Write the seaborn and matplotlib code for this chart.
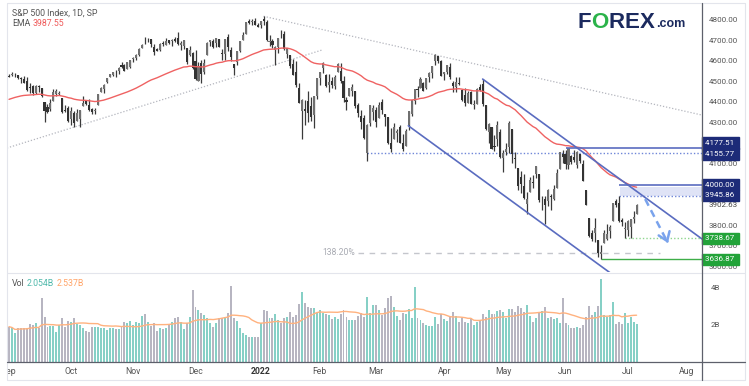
import matplotlib
matplotlib.use("Agg")
import matplotlib.pyplot as plt
import matplotlib.transforms as mtransforms
from matplotlib.lines import Line2D
import numpy as np
import pandas as pd
import seaborn as sns

# ---- daily OHLC, S&P 500, 1 Sep 2021 .. 7 Jul 2022 (one entry per trading day)
opens = [
    # Sep
    4528, 4534, 4532, 4535, 4518, 4513, 4506, 4474, 4479, 4447, 4477, 4469, 4402, 4375, 4368, 4406, 4438, 4442, 4419, 4362, 4371,
    # Oct
    4317, 4348, 4310, 4320, 4384, 4406, 4385, 4368, 4358, 4386, 4448, 4463, 4497, 4524, 4533, 4547, 4553, 4579, 4580, 4562, 4572,
    # Nov
    4610, 4613, 4630, 4662, 4699, 4701, 4707, 4670, 4659, 4655, 4689, 4680, 4701, 4700, 4708, 4712, 4679, 4675, 4664, 4628, 4640,
    # Dec
    4602, 4505, 4589, 4549, 4631, 4691, 4697, 4687, 4710, 4642, 4637, 4719, 4653, 4587, 4595, 4650, 4703, 4733, 4795, 4788, 4794, 4776,
    # Jan
    4778, 4804, 4788, 4693, 4698, 4655, 4669, 4729, 4733, 4637, 4632, 4588, 4548, 4471, 4357, 4367, 4408, 4380, 4337, 4431,
    # Feb
    4519, 4566, 4535, 4482, 4505, 4480, 4548, 4553, 4506, 4412, 4429, 4455, 4456, 4385, 4332, 4325, 4155.77, 4298, 4354,
    # Mar
    4364, 4322, 4401, 4342, 4327, 4202, 4224, 4253, 4280, 4203, 4188, 4289, 4345, 4407, 4462, 4469, 4494, 4470, 4522, 4542, 4603, 4624, 4599,
    # Apr
    4540, 4547, 4573, 4495, 4475, 4494, 4462, 4437, 4398, 4449, 4385, 4390, 4473, 4489, 4385, 4255, 4278, 4187, 4223, 4254,
    # May
    4131, 4159, 4182, 4271, 4128, 4081, 4035, 3991, 3904, 3964, 4013, 4052, 4052, 3900, 3928, 3920, 3942, 3930, 3985, 4077, 4151,
    # Jun
    4150, 4096, 4137, 4134, 4097, 4148, 4102, 3975, 3838, 3763, 3765, 3729, 3665, 3715, 3734, 3774, 3821, 3920, 3913, 3826, 3785,
    # Jul
    3781, 3792, 3831, 3859,
]
highs = [
    4537, 4545, 4541, 4535, 4521, 4529, 4521, 4492, 4485, 4486, 4486, 4471, 4402, 4394, 4417, 4465, 4463, 4457, 4419, 4385, 4382,
    4375, 4356, 4369, 4365, 4429, 4412, 4415, 4374, 4372, 4439, 4475, 4488, 4520, 4540, 4549, 4559, 4572, 4598, 4585, 4597, 4608,
    4620, 4635, 4664, 4683, 4718, 4714, 4708, 4684, 4664, 4688, 4698, 4714, 4701, 4708, 4717, 4744, 4699, 4702, 4664, 4672, 4646,
    4652, 4595, 4608, 4612, 4694, 4705, 4707, 4713, 4710, 4660, 4710, 4732, 4667, 4588, 4651, 4697, 4740, 4792, 4807, 4804, 4808, 4787,
    4797, 4819, 4798, 4726, 4708, 4674, 4714, 4749, 4745, 4666, 4632, 4612, 4602, 4494, 4417, 4411, 4453, 4428, 4432, 4516,
    4546, 4595, 4540, 4540, 4521, 4531, 4590, 4589, 4527, 4426, 4472, 4490, 4456, 4395, 4363, 4340, 4294, 4385, 4388,
    4375, 4401, 4416, 4342, 4327, 4276, 4299, 4268, 4291, 4247, 4272, 4358, 4412, 4465, 4481, 4522, 4501, 4520, 4546, 4575, 4637, 4627, 4604,
    4548, 4583, 4593, 4504, 4522, 4521, 4464, 4471, 4454, 4453, 4411, 4471, 4489, 4513, 4386, 4299, 4278, 4240, 4308, 4270,
    4169, 4201, 4308, 4271, 4158, 4082, 4068, 4050, 3965, 4038, 4047, 4089, 4052, 3946, 3944, 3981, 3956, 3999, 4075, 4158, 4168,
    4167, 4177.51, 4142, 4169, 4164, 4149, 4119, 3975, 3838, 3778, 3838, 3729, 3708, 3779, 3810, 3802, 3913, 3928, 3945.86, 3837, 3818,
    3829, 3832, 3870, 3906,
]
lows = [
    4522, 4529, 4521, 4513, 4493, 4493, 4456, 4446, 4435, 4438, 4448, 4427, 4305, 4348, 4359, 4406, 4430, 4436, 4346, 4355, 4306,
    4289, 4279, 4310, 4278, 4384, 4386, 4360, 4342, 4342, 4386, 4448, 4447, 4496, 4524, 4527, 4524, 4537, 4569, 4551, 4562, 4568,
    4595, 4604, 4624, 4662, 4681, 4694, 4670, 4630, 4648, 4651, 4672, 4679, 4684, 4672, 4692, 4680, 4652, 4659, 4585, 4625, 4560,
    4510, 4504, 4495, 4540, 4631, 4675, 4666, 4671, 4667, 4606, 4606, 4651, 4600, 4531, 4583, 4645, 4703, 4733, 4780, 4778, 4775, 4766,
    4759, 4775, 4699, 4672, 4663, 4582, 4638, 4712, 4654, 4614, 4568, 4531, 4474, 4395, 4222, 4288, 4305, 4309, 4273, 4415,
    4484, 4544, 4474, 4451, 4471, 4466, 4548, 4492, 4402, 4364, 4429, 4429, 4373, 4328, 4268, 4222, 4114, 4287, 4316,
    4279, 4322, 4345, 4284, 4199, 4157, 4224, 4209, 4200, 4162, 4187, 4265, 4335, 4390, 4424, 4469, 4455, 4465, 4501, 4517, 4581, 4589, 4530,
    4507, 4539, 4514, 4450, 4450, 4485, 4408, 4382, 4395, 4392, 4368, 4390, 4455, 4384, 4267, 4200, 4175, 4162, 4188, 4131,
    4062, 4145, 4156, 4107, 4082, 3975, 3958, 3928, 3859, 3964, 3984, 4034, 3914, 3877, 3811, 3895, 3875, 3925, 3985, 4077, 4104,
    4074, 4074, 4098, 4109, 4081, 4107, 4017, 3901, 3744, 3725, 3722, 3648, 3636.87, 3715, 3729, 3743, 3821, 3889, 3820, 3800, 3738.67,
    3752, 3742, 3813, 3859,
]
closes = [
    4524, 4537, 4535, 4520, 4514, 4493, 4459, 4469, 4443, 4480, 4474, 4433, 4358, 4354, 4396, 4449, 4455, 4443, 4353, 4360, 4308,
    4357, 4300, 4346, 4364, 4399, 4391, 4361, 4351, 4364, 4438, 4471, 4486, 4519, 4537, 4549, 4545, 4567, 4574, 4551, 4596, 4605,
    4614, 4631, 4660, 4680, 4697, 4701, 4685, 4646, 4649, 4683, 4682, 4700, 4688, 4704, 4698, 4682, 4690, 4701, 4595, 4655, 4567,
    4513, 4577, 4538, 4592, 4687, 4701, 4667, 4712, 4669, 4635, 4709, 4668, 4621, 4568, 4649, 4697, 4726, 4791, 4786, 4793, 4778, 4766,
    4797, 4794, 4701, 4696, 4677, 4670, 4713, 4726, 4659, 4663, 4577, 4533, 4483, 4398, 4410, 4357, 4350, 4327, 4432, 4516,
    4546, 4589, 4477, 4501, 4484, 4521, 4587, 4504, 4419, 4401, 4472, 4475, 4380, 4349, 4305, 4226, 4288, 4385, 4374,
    4306, 4387, 4364, 4329, 4201, 4171, 4278, 4260, 4204, 4173, 4262, 4358, 4412, 4463, 4461, 4512, 4457, 4520, 4543, 4575, 4632, 4602, 4530,
    4546, 4583, 4525, 4481, 4500, 4488, 4413, 4397, 4447, 4392, 4391, 4463, 4459, 4394, 4272, 4297, 4175, 4184, 4288, 4132,
    4155, 4175, 4301, 4147, 4123, 3991, 4001, 3935, 3930, 4024, 4008, 4089, 3924, 3901, 3901, 3974, 3941, 3979, 4058, 4158, 4132,
    4101, 4176, 4109, 4121, 4161, 4116, 4018, 3901, 3750, 3735, 3790, 3667, 3675, 3765, 3760, 3796, 3912, 3900, 3821, 3819, 3785,
    3825, 3831, 3845, 3902.63,
]
# volume, billions
volume = [
    1.91, 1.82, 1.55, 1.82, 1.82, 1.82, 1.82, 2.04, 2.00, 2.09, 1.82, 3.48, 2.45, 1.91, 1.96, 1.96, 1.64, 2.00, 2.36, 1.91, 2.24,
    2.18, 2.40, 2.04, 2.00, 1.86, 1.68, 1.64, 1.91, 1.91, 1.91, 1.86, 1.82, 1.73, 1.82, 1.86, 1.78, 1.78, 1.96, 2.18, 2.09, 2.24,
    2.00, 2.18, 2.09, 2.49, 2.58, 2.18, 1.96, 2.09, 1.68, 1.86, 1.78, 1.85, 2.00, 2.18, 2.36, 2.41, 2.18, 1.78, 2.09, 2.45, 3.89,
    2.99, 2.79, 2.63, 2.54, 2.36, 2.13, 1.91, 2.09, 2.36, 2.36, 2.45, 2.67, 4.12, 2.40, 2.23, 1.82, 1.55, 1.46, 1.37, 1.33, 1.33, 1.33,
    2.13, 2.81, 2.76, 2.36, 2.40, 2.58, 2.27, 2.09, 2.36, 2.45, 2.68, 2.45, 2.54, 3.14, 3.80, 3.17, 2.95, 2.90, 2.90, 2.67,
    2.81, 2.63, 2.58, 2.54, 2.32, 2.41, 2.32, 2.59, 2.81, 2.41, 2.27, 2.27, 2.27, 2.50, 2.67, 2.45, 3.49, 2.67, 3.08,
    3.08, 2.81, 2.54, 2.94, 3.44, 3.57, 2.95, 2.49, 2.27, 2.67, 2.58, 2.86, 2.36, 4.07, 2.40, 2.27, 2.09, 2.00, 1.97, 1.97, 2.41, 2.05, 2.58,
    2.32, 2.22, 2.45, 2.68, 2.50, 2.18, 2.40, 2.18, 2.09, 2.40, 2.00, 2.18, 2.27, 2.59, 2.45, 2.81, 2.59, 2.58, 2.76, 2.81,
    2.68, 2.36, 2.85, 2.86, 2.72, 3.03, 2.90, 2.72, 3.08, 2.50, 2.18, 2.40, 2.67, 2.76, 2.97, 2.36, 2.41, 2.32, 2.40, 2.13, 3.48,
    2.09, 2.00, 1.82, 1.85, 1.91, 1.85, 2.00, 2.45, 3.03, 2.54, 2.72, 3.03, 4.49, 2.54, 2.45, 2.54, 3.26, 2.04, 2.18, 2.04, 2.63,
    2.13, 2.45, 2.15, 2.054,
]
ema_seed = 4410  # EMA(50) level where the chart starts

month_labels = ["Sep", "Oct", "Nov", "Dec", "2022", "Feb", "Mar", "Apr", "May", "Jun", "Jul", "Aug"]
month_pos = [0, 21, 42, 63, 85, 105, 124, 147, 167, 188, 209, 229]
price_ticks = [4800, 4700, 4600, 4500, 4400, 4300, 4100, 3800, 3700, 3600]

# drawn levels / trend lines (trading-day index, price)
top_trend = [(86, 4818), (234.1, 4338)]
base_trend = [(-0.7, 4178), (105.7, 4654)]
chan_upper = [(160, 4513), (234.1, 3736)]
chan_lower = [(134.9, 4286), (203.3, 3569)]
fib_level = 3669
arrow_pts = [(214.9, 3930), (222.6, 3716)]

sns.set_theme(style="white")
plt.rcParams["font.family"] = ["Roboto", "DejaVu Sans"]

W, H = 749, 386
fig = plt.figure(figsize=(W / 100, H / 100), dpi=100)
fig.patch.set_facecolor("white")


def box(x0, y0, x1, y1):
    return [x0 / W, 1 - y1 / H, (x1 - x0) / W, (y1 - y0) / H]


ax = fig.add_axes(box(7, 3, 702, 272))
axv = fig.add_axes(box(7, 273, 702, 362), sharex=ax)
axd = fig.add_axes(box(7, 362, 702, 380), sharex=ax)
for a in (ax, axv, axd):
    a.set_axis_off()

o = np.array(opens, float)
h = np.array(highs, float)
l = np.array(lows, float)
c = np.array(closes, float)
idx = np.arange(len(c))
up = c >= o

# candles
col = np.where(up, "#707070", "#333333")
ax.vlines(idx, l, h, colors="#3a3a3a", lw=0.9, zorder=3)
ax.bar(idx, np.maximum(np.abs(c - o), 3), bottom=np.minimum(o, c), width=0.7,
       color=col, lw=0, zorder=3)

# EMA 50
ema = pd.Series([ema_seed] + list(c)).ewm(span=50, adjust=False).mean().iloc[1:].to_numpy()
sns.lineplot(x=idx, y=ema, ax=ax, color="#ef6262", lw=1.0, zorder=4)

ax.set_xlim(-0.68, 234.1)
ax.set_ylim(3575.5, 4882.6)

# trend lines and levels
grey = "#b4b6be"
blue = "#5a6cc0"
for pts in (top_trend, base_trend):
    ax.plot([pts[0][0], pts[1][0]], [pts[0][1], pts[1][1]], color=grey, lw=0.9, ls=(0, (1, 1.5)), zorder=2)
for pts in (chan_upper, chan_lower):
    ax.plot([pts[0][0], pts[1][0]], [pts[0][1], pts[1][1]], color=blue, lw=1.2, zorder=5)

ax.hlines(4177.51, 188, 240, color=blue, lw=1.2, zorder=5)
ax.hlines(4155.77, 121, 240, color="#6f86d8", lw=1.0, ls=(0, (1, 1.5)), zorder=2)
ax.fill_between([206.5, 240], 3945.86, 3990, color="#dfe3f6", lw=0, zorder=1)
ax.hlines(4000, 206, 240, color=blue, lw=1.2, zorder=5)
ax.hlines(3945.86, 206, 240, color="#6f86d8", lw=1.0, ls=(0, (1, 1.5)), zorder=2)
ax.hlines(3738.67, 208, 240, color="#8fd68f", lw=1.0, ls=(0, (1, 1.5)), zorder=2)
ax.hlines(3636.87, 200, 240, color="#3fae49", lw=1.0, zorder=2)
ax.hlines(fib_level, 117.9, 219.9, color="#c4c6cc", lw=1.0, ls=(0, (4, 4)), zorder=2)
ax.text(117.0, fib_level, "138.20%", ha="right", va="center", fontsize=6.2, color="#a8aab2")

ax.plot([arrow_pts[0][0], arrow_pts[1][0]], [arrow_pts[0][1], arrow_pts[1][1]],
        color="#7aa3ec", lw=1.8, ls=(0, (3, 2)), zorder=6)
ax.annotate("", xy=arrow_pts[1], xytext=(222.0, 3738),
            arrowprops=dict(arrowstyle="->,head_length=0.5,head_width=0.35", color="#7aa3ec", lw=1.8),
            zorder=6)

# right price scale
tr = mtransforms.blended_transform_factory(ax.transAxes, ax.transData)
for p in price_ticks:
    ax.text(1 + 7 / 695, p, f"{p:.2f}", transform=tr, ha="left", va="center",
            fontsize=5.8, color="#555555", clip_on=False, zorder=3)
ax.text(1 + 7 / 695, 3902.63, "3902.63", transform=tr, ha="left", va="center",
        fontsize=5.8, color="#444444", clip_on=False, zorder=3)

navy = "#1d2b78"
green = "#22a339"
tags = [(4202, "4177.51", navy), (4150, "4155.77", navy), (4000, "4000.00", navy),
        (3948, "3945.86", navy), (3738.67, "3738.67", green), (3636.87, "3636.87", green)]
for y, s, fc in tags:
    ax.text(1 + 3 / 695, y, s + " ", transform=tr, ha="left", va="center", fontsize=5.8,
            color="white", clip_on=False, zorder=8,
            bbox=dict(boxstyle="square,pad=0.35", fc=fc, ec=fc))

# volume panel
vcol = np.where(up, "#86d0c6", "#b7b5c1")
axv.bar(idx, volume, width=0.66, color=vcol, lw=0, zorder=2)
vol_ma = pd.Series(volume).rolling(20, min_periods=1).mean()
sns.lineplot(x=idx, y=vol_ma.to_numpy(), ax=axv, color="#ffb27f", lw=1.0, zorder=3)
axv.set_ylim(0, 4.81)
trv = mtransforms.blended_transform_factory(axv.transAxes, axv.transData)
for v in (4, 2):
    axv.text(1 + 9 / 695, v, f"{v}B", transform=trv, ha="left", va="center",
             fontsize=5.8, color="#555555", clip_on=False)

# date strip
trd = mtransforms.blended_transform_factory(axd.transData, axd.transAxes)
for pos, lab in zip(month_pos, month_labels):
    axd.text(pos, 0.5, lab, transform=trd, ha="center", va="center", fontsize=6.2,
             color="#333333" if lab == "2022" else "#555555",
             fontweight="bold" if lab == "2022" else "normal", clip_on=True)
axd.set_ylim(0, 1)


def ftext(x, y, s, **kw):
    fig.text(x / W, 1 - y / H, s, **kw)


ftext(12, 13, "S&P 500 Index, 1D, SP", fontsize=6.3, color="#555555", va="center")
ftext(12, 24, "EMA", fontsize=6.3, color="#555555", va="center")
ftext(33, 24, "3987.55", fontsize=6.3, color="#ef5a5a", va="center")
ftext(12, 283, "Vol", fontsize=6.3, color="#555555", va="center")
ftext(27, 283, "2.054B", fontsize=6.3, color="#4fb9ab", va="center")
ftext(57, 283, "2.537B", fontsize=6.3, color="#ffa468", va="center")

# logo
logo_font = ["Liberation Sans", "DejaVu Sans"]
for x, s, cl in [(584.8, "F", "#1b2a5e"), (600.2, "O", "#2bb34a"), (616.9, "R", "#1b2a5e"),
                 (632.3, "E", "#1b2a5e"), (647.1, "X", "#1b2a5e")]:
    ftext(x, 28, s, fontsize=16, fontweight="bold", color=cl, ha="center", va="baseline",
          family=logo_font)
ftext(656, 27, ".com", fontsize=9, fontweight="bold", color="#1b2a5e", ha="left",
      va="baseline", family=logo_font)

# frame
def fline(x0, y0, x1, y1, color, lw):
    fig.add_artist(Line2D([x0 / W, x1 / W], [1 - y0 / H, 1 - y1 / H], color=color, lw=lw))


light = "#e3e5ec"
fline(7, 3, 745, 3, light, 0.8)
fline(7, 3, 7, 380, light, 0.8)
fline(745, 3, 745, 380, light, 0.8)
fline(7, 380, 745, 380, light, 0.8)
fline(7, 272.5, 745, 272.5, light, 0.8)
fline(702, 3, 702, 380, "#5d606b", 0.9)
fline(7, 362, 745, 362, "#5d606b", 0.9)

fig.savefig("out.png", dpi=100)
